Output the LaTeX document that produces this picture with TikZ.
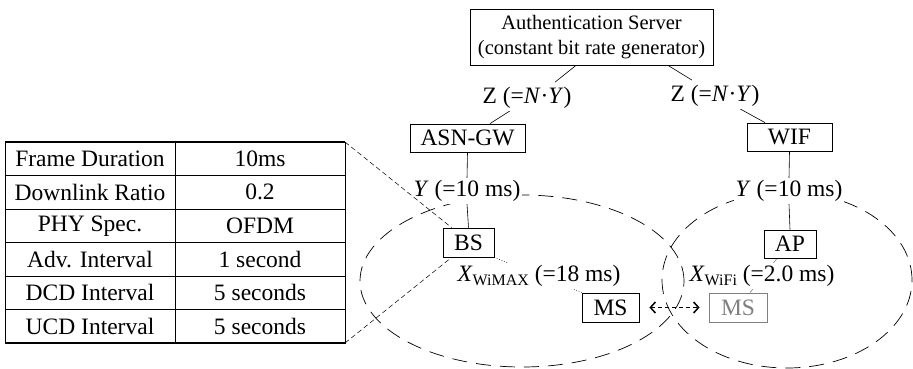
\documentclass[tikz,border=0pt]{standalone}
\usepackage{fontspec}
\setmainfont{Liberation Serif}
\usetikzlibrary{arrows.meta, calc, backgrounds}

\newcommand{\subsc}[1]{\raisebox{-0.4ex}{\fontsize{16}{16}\selectfont #1}}

\begin{document}
\begin{tikzpicture}[
  x=1pt,
  y=-1pt,
  font=\fontsize{23.5}{26}\selectfont,
  elem/.style={draw, fill=white, inner sep=0pt, line width=0.8pt},
  delay/.style={fill=white, inner sep=2pt},
  zone/.style={dashed, dash pattern=on 15pt off 9pt, line width=0.7pt},
  zoomline/.style={dashed, dash pattern=on 5pt off 3pt, line width=0.5pt},
  link/.style={line width=0.6pt},
  move/.style={line width=1.5pt, dash pattern=on 4pt off 3pt, {Straight Barb[length=5pt,width=11pt]}-{Straight Barb[length=5pt,width=11pt]}}
  ]
    \useasboundingbox (0,0) rectangle (913,369);

    % network elements
    \node[elem, minimum width=243, minimum height=56, align=center, font=\fontsize{20.5}{25}\selectfont] (auth) at (591.5,37)
        {Authentication Server\\(constant bit rate generator)};
    \node[elem, minimum width=115, minimum height=28] (asn) at (467.5,138) {ASN-GW};
    \node[elem, minimum width=85, minimum height=28] (wif) at (789.5,137) {WIF};
    \node[elem, minimum width=51, minimum height=29] (bs) at (468.5,242.5) {BS};
    \node[elem, minimum width=52, minimum height=28] (ap) at (790,244) {AP};
    \node[elem, minimum width=57, minimum height=29] (ms) at (610.5,307.5) {MS};
    \node[elem, draw=gray, text=gray, minimum width=58, minimum height=29] (ms2) at (738,307.5) {MS};

    % delays
    \node[delay] (zl) at (527,98) {Z (=\textit{N}·\textit{Y})};
    \node[delay] (zr) at (715,96) {Z (=\textit{N}·\textit{Y})};
    \node[delay] (yl) at (467,191) {\textit{Y} (=10 ms)};
    \node[delay] (yr) at (789,191) {\textit{Y} (=10 ms)};
    \node[delay] (xl) at (539,276) {\textit{X}\subsc{WiMAX} (=18 ms)};
    \node[delay] (xr) at (762,276) {\textit{X}\subsc{WiFi} (=2.0 ms)};

%cells
\begin{scope}[on background layer]
    \draw[zone] (522,281) ellipse [x radius=162pt, y radius=86pt];
    \draw[zone] (787,280) ellipse [x radius=125pt, y radius=88pt];

    \draw[link] ([xshift=-15.5pt]auth.south) -- ([xshift=28pt,yshift=3pt]zl.north);
    \draw[link] ([xshift=76.5pt]auth.south) -- ([xshift=-23pt,yshift=3pt]zr.north);
    \draw[link] ([xshift=-17pt]zl.south) -- ([xshift=22.5pt]asn.north);
    \draw[link] ([xshift=25pt]zr.south) -- ([xshift=-24.5pt]wif.north);
    \draw[link] (asn.south) -- (yl.north);
    \draw[link] (wif.south) -- (yr.north);
    \draw[link] (yl.south) -- (bs.north);
    \draw[link] (yr.south) -- (ap.north);
    \draw[link, dotted] (bs.south east) -- (ms.north west);
    \draw[link, gray] ([xshift=-13pt]ap.south) -- ([xshift=12pt]ms2.north);
\end{scope}

    \draw[move, shorten <=10pt, shorten >=9pt] (ms.east) -- (ms2.west);

%table
\coordinate (tnw) at (5,142);
\coordinate (tse) at (345,343);
\draw[line width=0.6pt] (tnw) rectangle (tse);
\draw[line width=1.4pt] (tnw) -- (tnw -| tse);
\draw[line width=1.4pt] (tse) -- (tse -| tnw);
\draw[line width=0.6pt] (175,142) -- (175,343);
\foreach \i/\name/\val in {1/Frame Duration/10ms, 2/Downlink Ratio/0.2, 3/PHY Spec./OFDM,
                           4/Adv. Interval/1 second, 5/DCD Interval/5 seconds, 6/UCD Interval/5 seconds}
{
  \node (par\i) at (90,{142+33.5*(\i-0.5)}) {\name};
  \node (val\i) at (260,{142+33.5*(\i-0.5)}) {\val};
  \ifnum\i<6
    \draw[line width=0.6pt] (5,{142+33.5*\i}) -- (345,{142+33.5*\i});
  \fi
}

%zoom to BS
\draw[zoomline] (tnw -| tse) -- ([xshift=9pt]bs.north west);
\draw[zoomline] (tse) -- ([xshift=9pt]bs.south west);

\end{tikzpicture}
\end{document}
